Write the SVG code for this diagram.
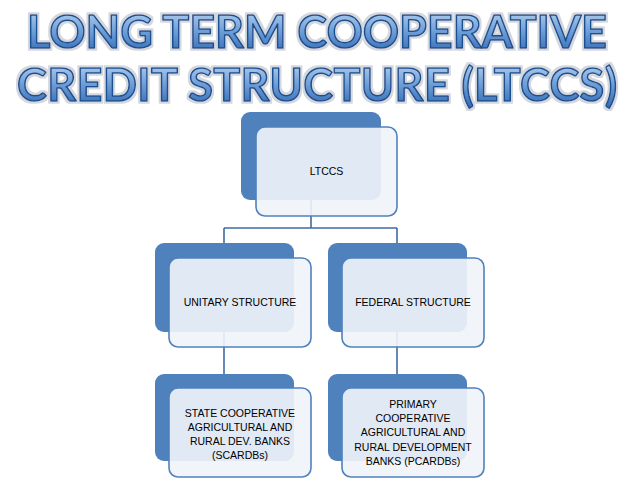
<svg xmlns="http://www.w3.org/2000/svg" width="638" height="479" viewBox="0 0 638 479">
<defs>
<linearGradient id="tg" x1="0" y1="0" x2="0" y2="1">
<stop offset="0" stop-color="#C6DCF2"/>
<stop offset="0.5" stop-color="#6E9FD8"/>
<stop offset="1" stop-color="#2A62AE"/>
</linearGradient>
<filter id="glow" x="-5%" y="-20%" width="110%" height="140%">
<feMorphology in="SourceAlpha" operator="dilate" radius="2.2" result="d"/>
<feFlood flood-color="#D3D8DF"/>
<feComposite in2="d" operator="in" result="g"/>
<feMerge><feMergeNode in="g"/><feMergeNode in="SourceGraphic"/></feMerge>
</filter>
<style>
.title{font-family:Lato,"Open Sans","Liberation Sans",sans-serif;font-weight:bold;font-size:45px;fill:url(#tg);stroke:#1F4F8F;stroke-width:1.5;stroke-linejoin:round;filter:url(#glow);}
.back{fill:#4F81BD;}
.front{fill:#F0F4FA;fill-opacity:0.9;stroke:#4F81BD;stroke-width:1.6;}
.lbl{font-family:"Liberation Sans",Arial,sans-serif;font-size:10.5px;fill:#000;text-anchor:middle;}
.conn{fill:none;stroke:#3F6CA3;stroke-width:1.6;}
</style>
</defs>
<rect width="638" height="479" fill="#FFFFFF"/>
<g id="title">
<text class="title" x="27" y="48" textLength="580" lengthAdjust="spacing">LONG TERM COOPERATIVE</text>
<text class="title" x="17" y="101" textLength="600" lengthAdjust="spacing">CREDIT STRUCTURE (LTCCS)</text>
</g>
<g id="connectors">
<path class="conn" d="M311 200 V228 M224 228 H397 M224 228 V243 M397 228 V243"/>
<path class="conn" d="M224 332 V374"/>
<path class="conn" d="M397 332 V374"/>
</g>
<g id="node-ltccs">
<rect class="back" x="241" y="112" width="140" height="88" rx="9"/>
<rect class="front" x="256" y="127" width="141" height="89" rx="9"/>
<text class="lbl" x="326.5" y="175">LTCCS</text>
</g>
<g id="node-unitary">
<rect class="back" x="155" y="243" width="139" height="89" rx="9"/>
<rect class="front" x="169" y="258" width="142" height="89" rx="9"/>
<text class="lbl" x="240" y="306">UNITARY STRUCTURE</text>
</g>
<g id="node-federal">
<rect class="back" x="328" y="243" width="139" height="89" rx="9"/>
<rect class="front" x="342" y="258" width="142" height="89" rx="9"/>
<text class="lbl" x="413" y="306">FEDERAL STRUCTURE</text>
</g>
<g id="node-scardb">
<rect class="back" x="155" y="374" width="139" height="87" rx="9"/>
<rect class="front" x="169" y="388" width="142" height="89" rx="9"/>
<text class="lbl" x="240" y="417">STATE COOPERATIVE</text>
<text class="lbl" x="240" y="431">AGRICULTURAL AND</text>
<text class="lbl" x="240" y="445">RURAL DEV. BANKS</text>
<text class="lbl" x="240" y="459">(SCARDBs)</text>
</g>
<g id="node-pcardb">
<rect class="back" x="328" y="374" width="139" height="87" rx="9"/>
<rect class="front" x="342" y="388" width="142" height="89" rx="9"/>
<text class="lbl" x="413" y="408">PRIMARY</text>
<text class="lbl" x="413" y="422">COOPERATIVE</text>
<text class="lbl" x="413" y="436">AGRICULTURAL AND</text>
<text class="lbl" x="413" y="450.5">RURAL DEVELOPMENT</text>
<text class="lbl" x="413" y="465">BANKS (PCARDBs)</text>
</g>
</svg>
